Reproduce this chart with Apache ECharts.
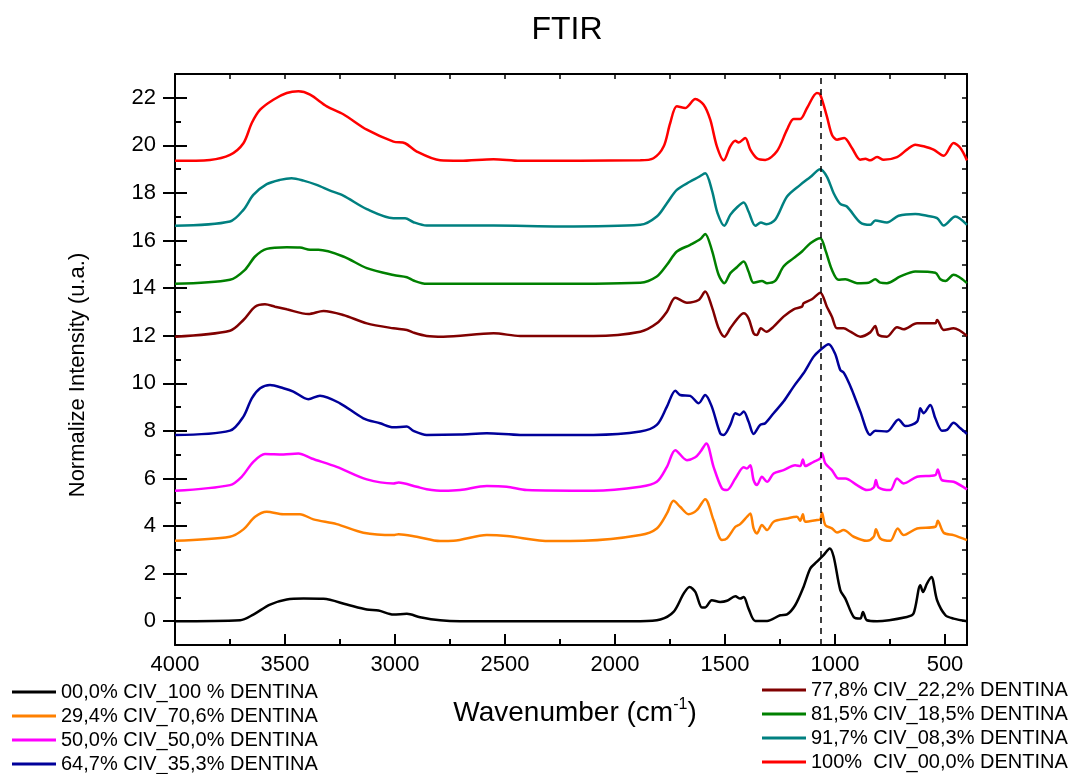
<!DOCTYPE html>
<html>
<head>
<meta charset="utf-8">
<script src="https://cdn.jsdelivr.net/npm/echarts@6/dist/echarts.min.js"></script>
<style>html,body{margin:0;padding:0;background:#fff;}#chart{width:1074px;height:774px;}</style>
</head>
<body>
<div id="chart"></div>
<script>
// ---- DATA ----
const seriesNames = [
  '00,0% CIV_100 % DENTINA',
  '29,4% CIV_70,6% DENTINA',
  '50,0% CIV_50,0% DENTINA',
  '64,7% CIV_35,3% DENTINA',
  '77,8% CIV_22,2% DENTINA',
  '81,5% CIV_18,5% DENTINA',
  '91,7% CIV_08,3% DENTINA',
  '100%  CIV_00,0% DENTINA'
];
const seriesColors = ['#000000','#FF8000','#FF00FF','#00009A','#800000','#008000','#008080','#FF0000'];

const civ000 = [[4000,0],[3704,0.04],[3644,0.28],[3568,0.70],[3492,0.91],[3416,0.95],[3325,0.94],[3219,0.70],[3128,0.49],[3075,0.45],[3007,0.28],[2946,0.31],[2886,0.17],[2795,0.04],[2704,0],[1885,0],[1794,0.07],[1734,0.39],[1688,1.16],[1661,1.44],[1635,1.23],[1605,0.58],[1590,0.58],[1560,0.88],[1522,0.81],[1491,0.86],[1453,1.05],[1431,0.95],[1415,1.02],[1393,0.53],[1362,0.01],[1309,0.01],[1249,0.25],[1218,0.29],[1181,0.67],[1143,1.44],[1112,2.22],[1082,2.50],[1052,2.78],[1024,3.06],[1006,2.71],[976,1.31],[953,0.95],[915,0.18],[885,0.11],[873,0.39],[855,0.04],[809,0],[673,0.18],[643,0.32],[612,1.51],[600,1.23],[582,1.58],[562,1.86],[536,0.88],[498,0.25],[461,0.11],[400,0]];
const civ294 = [[4000,3.38],[3750,3.55],[3689,3.86],[3636,4.39],[3583,4.60],[3507,4.50],[3432,4.50],[3371,4.28],[3265,4.08],[3144,3.72],[3007,3.62],[2984,3.66],[2901,3.55],[2795,3.37],[2734,3.38],[2583,3.62],[2492,3.58],[2295,3.37],[2143,3.38],[1885,3.62],[1810,3.90],[1764,4.53],[1734,5.06],[1704,4.81],[1666,4.50],[1628,4.67],[1590,5.13],[1552,4.25],[1514,3.41],[1491,3.48],[1453,3.97],[1431,4.08],[1400,4.39],[1385,4.53],[1370,3.90],[1355,3.69],[1332,4.04],[1309,3.83],[1279,4.18],[1218,4.32],[1173,4.39],[1158,4.22],[1146,4.50],[1135,4.18],[1082,4.25],[1067,4.28],[1059,4.56],[1044,4.04],[1014,3.90],[991,3.73],[961,3.83],[915,3.55],[855,3.38],[824,3.55],[814,3.86],[794,3.48],[749,3.38],[715,3.90],[688,3.62],[627,3.90],[544,3.97],[533,4.22],[506,3.72],[461,3.62],[400,3.41]];
const civ500 = [[4000,5.48],[3750,5.72],[3697,6.07],[3644,6.70],[3591,7.03],[3507,7.01],[3439,7.05],[3379,6.84],[3265,6.49],[3128,5.96],[3007,5.79],[2984,5.83],[2901,5.65],[2856,5.55],[2780,5.48],[2704,5.51],[2583,5.68],[2492,5.65],[2401,5.51],[2098,5.48],[1885,5.65],[1810,5.86],[1764,6.49],[1726,7.19],[1673,6.77],[1635,6.89],[1612,7.12],[1585,7.47],[1552,6.49],[1514,5.58],[1491,5.51],[1453,6.00],[1415,6.47],[1400,6.42],[1385,6.56],[1370,5.93],[1355,5.72],[1332,6.07],[1309,5.86],[1279,6.21],[1234,6.35],[1181,6.56],[1158,6.52],[1146,6.80],[1135,6.52],[1097,6.70],[1067,6.84],[1059,7.05],[1044,6.63],[1014,6.35],[984,6.00],[953,6.00],[900,5.72],[855,5.51],[824,5.62],[814,5.93],[802,5.62],[749,5.51],[718,6.00],[688,5.79],[627,6.07],[544,6.14],[533,6.38],[514,5.93],[461,5.86],[400,5.54]];
const civ647 = [[4000,7.83],[3750,8.01],[3689,8.60],[3651,9.37],[3613,9.79],[3568,9.93],[3507,9.79],[3462,9.65],[3394,9.33],[3341,9.48],[3250,9.16],[3144,8.53],[3068,8.32],[3007,8.15],[2946,8.18],[2916,8.00],[2856,7.83],[2704,7.85],[2583,7.90],[2431,7.83],[2098,7.83],[1885,7.97],[1810,8.25],[1764,9.02],[1726,9.69],[1704,9.51],[1658,9.47],[1620,9.16],[1590,9.51],[1560,9.02],[1522,7.90],[1506,7.83],[1476,8.25],[1453,8.74],[1434,8.67],[1415,8.81],[1393,8.39],[1370,7.87],[1340,8.25],[1317,8.32],[1279,8.74],[1234,9.23],[1188,9.86],[1143,10.42],[1097,11.12],[1067,11.40],[1029,11.64],[1000,11.25],[976,10.56],[961,10.45],[946,10.20],[923,9.72],[885,8.81],[840,7.83],[817,8.01],[764,7.97],[711,8.48],[680,8.20],[627,8.39],[612,8.95],[597,8.74],[567,9.09],[544,8.53],[514,8.01],[491,8.04],[461,8.34],[430,8.11],[400,7.87]];
const civ778 = [[4000,11.96],[3750,12.21],[3689,12.66],[3636,13.22],[3591,13.32],[3545,13.22],[3492,13.11],[3394,12.91],[3325,13.04],[3235,12.87],[3128,12.52],[3007,12.31],[2946,12.24],[2916,12.13],[2856,11.99],[2780,11.96],[2552,12.10],[2431,11.99],[2098,11.99],[1885,12.17],[1810,12.52],[1764,13.01],[1726,13.60],[1673,13.39],[1620,13.50],[1590,13.86],[1560,13.22],[1529,12.31],[1503,11.96],[1476,12.31],[1446,12.69],[1415,12.94],[1393,12.73],[1370,12.10],[1355,12.03],[1337,12.31],[1312,12.17],[1279,12.38],[1234,12.80],[1188,13.11],[1150,13.22],[1143,13.36],[1105,13.53],[1067,13.81],[1037,13.22],[1014,12.80],[991,12.31],[961,12.31],[930,12.17],[885,11.96],[840,12.14],[817,12.41],[802,12.03],[764,11.96],[718,12.36],[688,12.27],[627,12.52],[544,12.52],[536,12.66],[506,12.24],[461,12.31],[400,11.99]];
const civ815 = [[4000,14.18],[3750,14.35],[3682,14.77],[3636,15.33],[3583,15.65],[3492,15.72],[3432,15.71],[3386,15.61],[3348,15.61],[3235,15.33],[3128,14.84],[3007,14.55],[2946,14.46],[2916,14.32],[2856,14.18],[2400,14.18],[1885,14.23],[1810,14.49],[1764,14.98],[1719,15.54],[1658,15.82],[1612,16.06],[1590,16.28],[1560,15.61],[1529,14.56],[1503,14.21],[1476,14.63],[1446,14.88],[1415,15.12],[1393,14.70],[1370,14.23],[1332,14.30],[1309,14.21],[1272,14.30],[1234,14.91],[1188,15.26],[1150,15.54],[1112,15.89],[1067,16.10],[1044,15.61],[1014,14.77],[984,14.35],[953,14.37],[900,14.21],[847,14.23],[817,14.37],[794,14.23],[764,14.21],[703,14.49],[635,14.70],[544,14.65],[521,14.37],[498,14.30],[461,14.56],[400,14.21]];
const civ917 = [[4000,16.62],[3750,16.80],[3689,17.29],[3644,17.92],[3583,18.37],[3523,18.55],[3470,18.62],[3416,18.52],[3356,18.34],[3295,18.10],[3235,17.89],[3128,17.32],[3007,16.94],[2954,16.94],[2916,16.77],[2856,16.63],[2552,16.63],[2249,16.59],[1885,16.66],[1810,17.01],[1764,17.57],[1719,18.13],[1658,18.48],[1620,18.67],[1590,18.83],[1560,18.13],[1534,17.15],[1503,16.62],[1476,17.08],[1446,17.39],[1415,17.60],[1393,17.22],[1362,16.62],[1337,16.76],[1312,16.69],[1272,16.87],[1218,17.85],[1158,18.34],[1112,18.67],[1067,19.00],[1037,18.69],[1006,17.99],[976,17.54],[946,17.43],[885,16.76],[840,16.66],[817,16.84],[764,16.76],[711,17.04],[635,17.12],[582,17.04],[536,16.94],[506,16.63],[453,17.01],[400,16.66]];
const civ1000 = [[4000,19.35],[3841,19.39],[3750,19.60],[3689,20.09],[3651,20.94],[3613,21.50],[3553,21.92],[3492,22.20],[3439,22.27],[3386,22.13],[3310,21.64],[3235,21.31],[3128,20.66],[3007,20.16],[2954,20.09],[2901,19.74],[2795,19.37],[2704,19.35],[2552,19.42],[2431,19.35],[1885,19.37],[1825,19.46],[1779,19.95],[1749,20.94],[1719,21.64],[1681,21.57],[1635,21.95],[1597,21.71],[1567,21.08],[1537,19.96],[1506,19.37],[1476,19.96],[1453,20.19],[1438,20.12],[1408,20.31],[1385,19.82],[1355,19.46],[1317,19.39],[1264,19.75],[1218,20.66],[1188,21.11],[1158,21.11],[1127,21.57],[1082,22.20],[1067,22.13],[1037,21.22],[1014,20.45],[991,20.24],[958,20.31],[923,19.89],[885,19.40],[862,19.44],[840,19.37],[809,19.51],[779,19.40],[718,19.51],[673,19.82],[635,20.03],[597,19.96],[552,19.82],[506,19.56],[461,20.10],[430,19.89],[400,19.37]];
const seriesData = [civ000, civ294, civ500, civ647, civ778, civ815, civ917, civ1000];

const xMajorTicks = [500,1000,1500,2000,2500,3000,3500,4000];
const xMinorTicks = [750,1250,1750,2250,2750,3250,3750];
const xTopTicks = [500,750,1000,1250,1500,1750,2000,2250,2500,2750,3000,3250,3500,3750];
const yMajorTicks = [0,2,4,6,8,10,12,14,16,18,20,22];
const yMinorTicks = [1,3,5,7,9,11,13,15,17,19,21];
const yRightTicks = [0,1,2,3,4,5,6,7,8,9,10,11,12,13,14,15,16,17,18,19,20,21,22];
const refLineX = 1067;

// ---- CHART ----
const FONT = '"Liberation Sans", Arial, sans-serif';
const chart = echarts.init(document.getElementById('chart'), null, {renderer: 'canvas'});

const plain = v => String(v);
const baseX = {type: 'value', inverse: true, min: 400, max: 4000, gridIndex: 0, splitLine: {show: false}};
const baseY = {type: 'value', min: -1, max: 23, gridIndex: 0, splitLine: {show: false}};
const blackLine = {color: '#000', width: 2};
const axLine = {show: true, onZero: false, lineStyle: blackLine};
const noLine = {show: false, onZero: false};

const series = seriesNames.map((n, i) => ({
  name: n,
  type: 'line',
  data: seriesData[i],
  showSymbol: false,
  symbol: 'none',
  smooth: 0.3,
  lineStyle: {color: seriesColors[i], width: 2.5},
  itemStyle: {color: seriesColors[i]},
  z: 3,
  animation: false
}));
series[0].markLine = {
  silent: true,
  symbol: ['none', 'none'],
  label: {show: false},
  lineStyle: {type: [6, 5], color: '#000', width: 1.5},
  data: [{xAxis: refLineX}],
  animation: false
};

const legendCommon = {
  orient: 'vertical',
  icon: 'rect',
  itemWidth: 44,
  itemHeight: 3,
  itemGap: 4,
  itemTextGap: 6,
  textStyle: {fontSize: 20, fontFamily: FONT, color: '#000', lineHeight: 20},
  selectedMode: false,
  padding: 0
};

chart.setOption({
  animation: false,
  backgroundColor: '#fff',
  grid: {left: 175, right: 107, top: 74, bottom: 129, containLabel: false},
  xAxis: [
    Object.assign({}, baseX, {position: 'bottom',
      axisLine: axLine,
      axisTick: {show: true, inside: true, length: 11, lineStyle: blackLine, customValues: xMajorTicks},
      axisLabel: {show: true, customValues: xMajorTicks, formatter: plain, fontSize: 22, fontFamily: FONT, color: '#000', margin: 9}}),
    Object.assign({}, baseX, {position: 'bottom',
      axisLine: noLine,
      axisTick: {show: true, inside: true, length: 6, lineStyle: blackLine, customValues: xMinorTicks},
      axisLabel: {show: false}}),
    Object.assign({}, baseX, {position: 'top',
      axisLine: axLine,
      axisTick: {show: true, inside: true, length: 5, lineStyle: {color: '#000', width: 1.5}, customValues: xTopTicks},
      axisLabel: {show: false}})
  ],
  yAxis: [
    Object.assign({}, baseY, {position: 'left',
      axisLine: axLine,
      axisTick: {show: true, inside: false, length: 12, lineStyle: blackLine, customValues: yMajorTicks},
      axisLabel: {show: true, customValues: yMajorTicks, formatter: plain, fontSize: 22, fontFamily: FONT, color: '#000', margin: 19}}),
    Object.assign({}, baseY, {position: 'left',
      axisLine: noLine,
      axisTick: {show: true, inside: true, length: 12, lineStyle: blackLine, customValues: yMajorTicks},
      axisLabel: {show: false}}),
    Object.assign({}, baseY, {position: 'left',
      axisLine: noLine,
      axisTick: {show: true, inside: true, length: 6, lineStyle: blackLine, customValues: yMinorTicks},
      axisLabel: {show: false}}),
    Object.assign({}, baseY, {position: 'right',
      axisLine: axLine,
      axisTick: {show: true, inside: true, length: 5, lineStyle: {color: '#000', width: 1.5}, customValues: yRightTicks},
      axisLabel: {show: false}})
  ],
  legend: [
    Object.assign({}, legendCommon, {left: 12, top: 682, data: seriesNames.slice(0, 4)}),
    Object.assign({}, legendCommon, {left: 762, top: 680, data: seriesNames.slice(4, 8)})
  ],
  graphic: [
    {type: 'text', x: 567, y: 30, style: {text: 'FTIR', font: '32px ' + FONT, fill: '#000', align: 'center', verticalAlign: 'middle'}},
    {type: 'text', x: 78, y: 375, rotation: Math.PI / 2, style: {text: 'Normalize Intensity (u.a.)', font: '22px ' + FONT, fill: '#000', align: 'center', verticalAlign: 'middle'}},
    {type: 'text', x: 575, y: 713, style: {
      text: 'Wavenumber (cm{sup|-1})', fill: '#000', fontSize: 28, fontFamily: FONT, align: 'center', verticalAlign: 'middle', lineHeight: 32,
      rich: {sup: {fontSize: 16, fontFamily: FONT, fill: '#000', verticalAlign: 'top', lineHeight: 32, padding: [0, 0, 8, 0]}}
    }}
  ],
  series: series
});
</script>
</body>
</html>
